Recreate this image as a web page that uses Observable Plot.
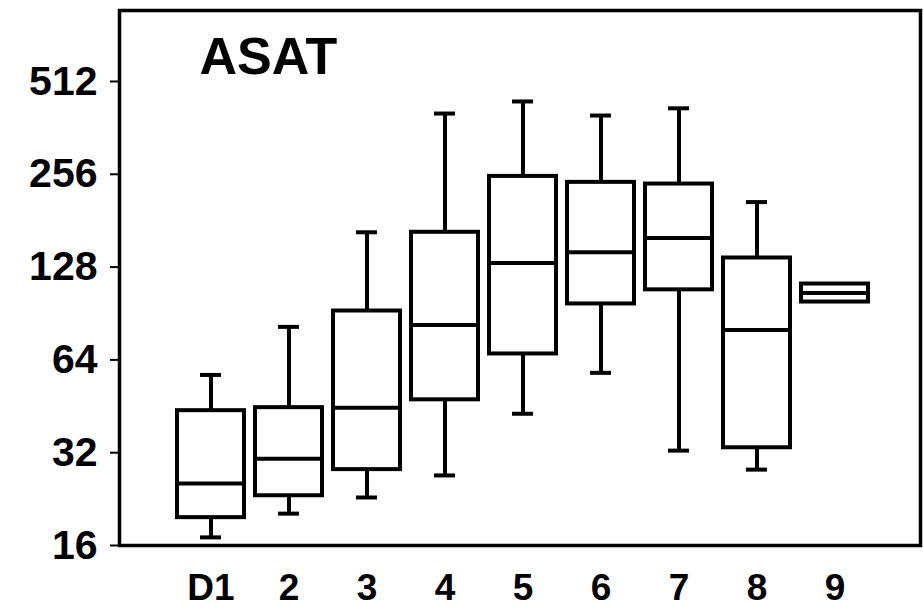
<!DOCTYPE html>
<html>
<head>
<meta charset="utf-8">
<script src="https://cdn.jsdelivr.net/npm/d3@7"></script>
<script src="https://cdn.jsdelivr.net/npm/@observablehq/plot@0.6"></script>
<style>
  html, body { margin: 0; padding: 0; background: #fff; }
  #chart svg { display: block; }
</style>
</head>
<body>
<div id="chart"></div>
<script>
const categories  = ["D1", "2", "3", "4", "5", "6", "7", "8", "9"];
const whiskerLow  = [17.0, 20.3, 22.9, 27.0, 42.8, 58.1, 32.5, 28.2, null];
const q1          = [19.7, 23.2, 28.2, 47.5, 66.9, 97.2, 108, 33.2, 98.6];
const median      = [25.4, 30.6, 44.8, 83.1, 132, 143, 159, 80.0, 105.5];
const q3          = [43.8, 44.8, 92.2, 166, 252, 241, 238, 137, 112.8];
const whiskerHigh = [57.2, 81.9, 166, 403, 441, 397, 419, 208, null];
const yTicks      = [16, 32, 64, 128, 256, 512];
const panelTitle  = "ASAT";

const rows = categories.map((cat, i) => ({
  cat, lo: whiskerLow[i], q1: q1[i], med: median[i], q3: q3[i], hi: whiskerHigh[i]
}));
const whiskerRows = rows.filter(d => d.lo != null && d.hi != null);

const font = "'Liberation Sans', Arial, Helvetica, sans-serif";
const lw = 4;

const chart = Plot.plot({
  width: 923,
  height: 607,
  marginLeft: 119,
  marginRight: 3,
  marginTop: 10,
  marginBottom: 62,
  style: { fontFamily: font, background: "#fff", color: "#000" },
  x: { domain: categories, paddingInner: 0.142, paddingOuter: 0.7, align: 0.53, label: null },
  y: { type: "log", base: 2, domain: [16, 870], label: null },
  marks: [
    Plot.ruleX(whiskerRows, { x: "cat", y1: "q3", y2: "hi", stroke: "#000", strokeWidth: lw }),
    Plot.ruleX(whiskerRows, { x: "cat", y1: "lo", y2: "q1", stroke: "#000", strokeWidth: lw }),
    Plot.tickY(whiskerRows, { x: "cat", y: "hi", insetLeft: 23, insetRight: 23, stroke: "#000", strokeWidth: lw }),
    Plot.tickY(whiskerRows, { x: "cat", y: "lo", insetLeft: 23, insetRight: 23, stroke: "#000", strokeWidth: lw }),
    Plot.barY(rows, { x: "cat", y1: "q1", y2: "q3", fill: "#fff", stroke: "#000", strokeWidth: lw }),
    Plot.tickY(rows, { x: "cat", y: "med", stroke: "#000", strokeWidth: lw }),
    Plot.axisY({ ticks: yTicks, tickFormat: d => String(d), tickSize: 9, tickPadding: 13,
                 fontSize: 41, fontWeight: "bold", strokeWidth: 2, label: null }),
    Plot.axisX({ tickSize: 0, tickPadding: 28, fontSize: 37, fontWeight: "bold", label: null }),
    Plot.frame({ stroke: "#000", strokeWidth: 3.5 }),
    Plot.text([panelTitle], { text: d => d, frameAnchor: "top-left", dx: 80, dy: 27,
                              fontSize: 52, fontWeight: "bold", fill: "#000" })
  ]
});
document.getElementById("chart").appendChild(chart);
</script>
</body>
</html>
